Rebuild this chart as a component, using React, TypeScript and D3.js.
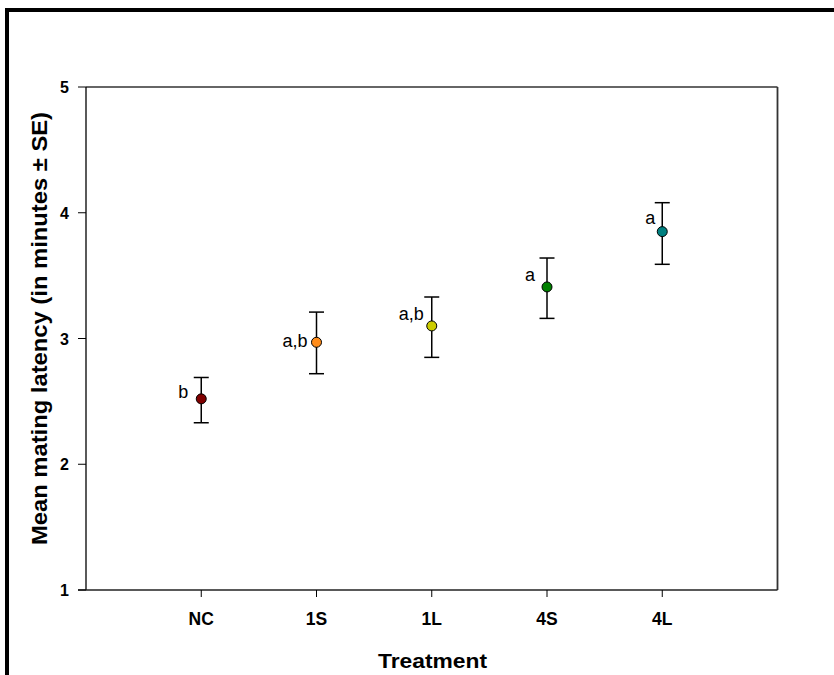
import React from "react";
import * as d3 from "d3";

const categories = ["NC", "1S", "1L", "4S", "4L"];
const means = [2.52, 2.97, 3.10, 3.41, 3.85];
const upper = [2.69, 3.21, 3.33, 3.64, 4.08];
const lower = [2.33, 2.72, 2.85, 3.16, 3.59];
const letters = ["b", "a,b", "a,b", "a", "a"];
const colors = ["#800000", "#ff8c1a", "#cccc00", "#008000", "#008080"];
const yTicks = [1, 2, 3, 4, 5];

// label placement offsets (layout only): [dx of right edge from point, dy of baseline from point]
const labelOffsets: [number, number][] = [
  [-13, -1],
  [-9, 5],
  [-8, -6],
  [-12, -6],
  [-7, -8],
];

export default function App() {
  const W = 834, H = 675;
  const left = 86, right = 777.5, top = 87, bottom = 590;
  const x = d3.scaleLinear().domain([0, 6]).range([left, right]);
  const y = d3.scaleLinear().domain([1, 5]).range([bottom, top]);
  const font = "Arial, 'Liberation Sans', sans-serif";
  const capW = 7.5;
  return (
    <svg width={W} height={H} style={{ position: "absolute", left: 0, top: 0 }}>
      <rect x={0} y={0} width={W} height={H} fill="#fff" />
      <rect x={7} y={10} width={W + 20} height={H + 20} fill="none" stroke="#000" strokeWidth={4} />
      {/* plot frame */}
      <line x1={left} x2={right} y1={top} y2={top} stroke="#333" strokeWidth={1.5} />
      <line x1={right} x2={right} y1={top} y2={bottom} stroke="#333" strokeWidth={1.8} />
      <line x1={left} x2={left} y1={top} y2={bottom} stroke="#000" strokeWidth={1.3} />
      <line x1={left - 8} x2={right} y1={bottom} y2={bottom} stroke="#222" strokeWidth={1.5} />
      {yTicks.map((t) => (
        <g key={t}>
          <line x1={left - 8} x2={left} y1={y(t)} y2={y(t)} stroke="#000" strokeWidth={1} />
          <text x={69} y={y(t) + 6} textAnchor="end" fontFamily={font} fontWeight="bold" fontSize={16}>{t}</text>
        </g>
      ))}
      {categories.map((c, i) => (
        <g key={c}>
          <line x1={x(i + 1)} x2={x(i + 1)} y1={bottom} y2={bottom + 7} stroke="#000" strokeWidth={1} />
          <text x={x(i + 1)} y={625} textAnchor="middle" fontFamily={font} fontWeight="bold" fontSize={17.5}>{c}</text>
        </g>
      ))}
      <text x={432.5} y={668} textAnchor="middle" fontFamily={font} fontWeight="bold" fontSize={21} textLength={109} lengthAdjust="spacingAndGlyphs">Treatment</text>
      <text transform={`translate(47, 328.5) rotate(-90)`} textAnchor="middle" fontFamily={font} fontWeight="bold" fontSize={21.5} textLength={433} lengthAdjust="spacingAndGlyphs">Mean mating latency (in minutes ± SE)</text>
      {categories.map((c, i) => {
        const cx = x(i + 1);
        const cy = y(means[i]);
        const [ldx, ldy] = labelOffsets[i];
        return (
          <g key={"p" + c}>
            <line x1={cx} x2={cx} y1={y(upper[i])} y2={y(lower[i])} stroke="#000" strokeWidth={1.5} />
            <line x1={cx - capW} x2={cx + capW} y1={y(upper[i])} y2={y(upper[i])} stroke="#000" strokeWidth={1.5} />
            <line x1={cx - capW} x2={cx + capW} y1={y(lower[i])} y2={y(lower[i])} stroke="#000" strokeWidth={1.5} />
            <circle cx={cx} cy={cy} r={5} fill={colors[i]} stroke="#000" strokeWidth={1} />
            <text x={cx + ldx} y={cy + ldy} textAnchor="end" fontFamily={font} fontSize={18}>{letters[i]}</text>
          </g>
        );
      })}
    </svg>
  );
}
